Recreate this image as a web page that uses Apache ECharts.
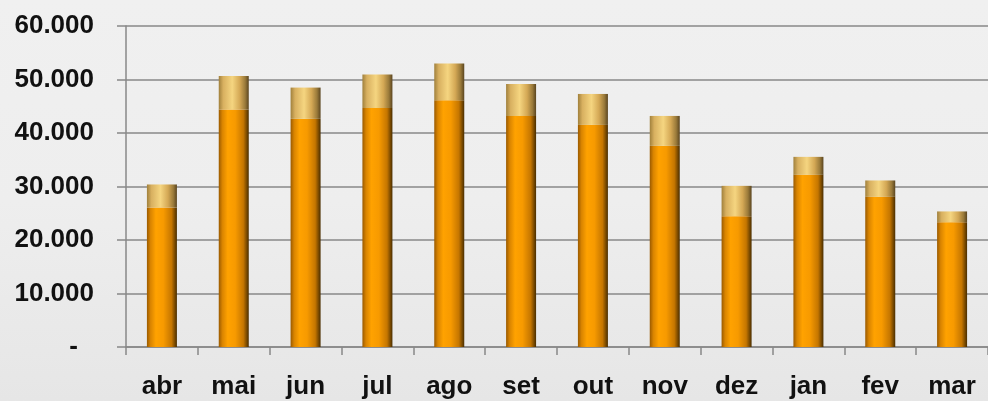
<!DOCTYPE html>
<html><head><meta charset="utf-8">
<script src="https://cdn.jsdelivr.net/npm/echarts@6/dist/echarts.min.js"></script>
<style>html,body{margin:0;padding:0;background:#efefef}#c{width:988px;height:401px}</style>
</head><body><div id="c"></div>
<script>
const categories = ['abr','mai','jun','jul','ago','set','out','nov','dez','jan','fev','mar'];
const baseValues = [26090,44390,42640,44690,46120,43190,41510,37590,24460,32180,28070,23340];
const totalValues = [30380,50660,48490,50920,52980,49170,47300,43190,30120,35540,31130,25340];
const topValues = totalValues.map((t,i)=>t-baseValues[i]);
const yTicks = [0,10000,20000,30000,40000,50000,60000];

const chart = echarts.init(document.getElementById('c'));
const grad = (stops)=>new echarts.graphic.LinearGradient(0,0,1,0,stops.map(s=>({offset:s[0],color:s[1]})));
chart.setOption({
  backgroundColor: new echarts.graphic.LinearGradient(0,0,0,1,[{offset:0,color:'#f0f0f0'},{offset:0.5,color:'#eeeeee'},{offset:1,color:'#e6e6e6'}]),
  animation:false,
  grid:{left:126, top:26, bottom:54, width:864, containLabel:false},
  xAxis:{
    type:'category', data:categories,
    axisLine:{lineStyle:{color:'#888',width:1.5}},
    axisTick:{show:true, length:8, inside:false, lineStyle:{color:'#888',width:1.5}},
    axisLabel:{color:'#111', fontFamily:'Liberation Sans', fontWeight:'bold', fontSize:26, margin:27}
  },
  yAxis:{
    type:'value', min:0, max:60000, interval:10000,
    axisLine:{show:true, lineStyle:{color:'#888',width:1.5}},
    axisTick:{show:true, length:9, lineStyle:{color:'#888',width:1.5}},
    splitLine:{lineStyle:{color:'#888',width:1.5}},
    axisLabel:{
      color:'#111', fontFamily:'Liberation Sans', fontWeight:'bold', fontSize:26, margin:32,
      formatter:(v)=> v===0 ? '{d|-}' : (v/1000).toFixed(3),
      rich:{d:{color:'#111', fontFamily:'Liberation Sans', fontWeight:'bold', fontSize:26, padding:[0,16,0,0]}}
    }
  },
  series:[
    {type:'bar', stack:'s', data:baseValues, barWidth:30,
     itemStyle:{color:grad([[0,'#9a5a00'],[0.12,'#d98400'],[0.3,'#ffa200'],[0.55,'#f79a00'],[0.82,'#c57600'],[1,'#4a2e00']])}},
    {type:'bar', stack:'s', data:topValues, barWidth:30,
     itemStyle:{color:grad([[0,'#a0803c'],[0.15,'#d8b060'],[0.45,'#f5d580'],[0.7,'#d4a855'],[0.88,'#9a7a3a'],[1,'#5a4520']])}}
  ]
});
</script></body></html>
